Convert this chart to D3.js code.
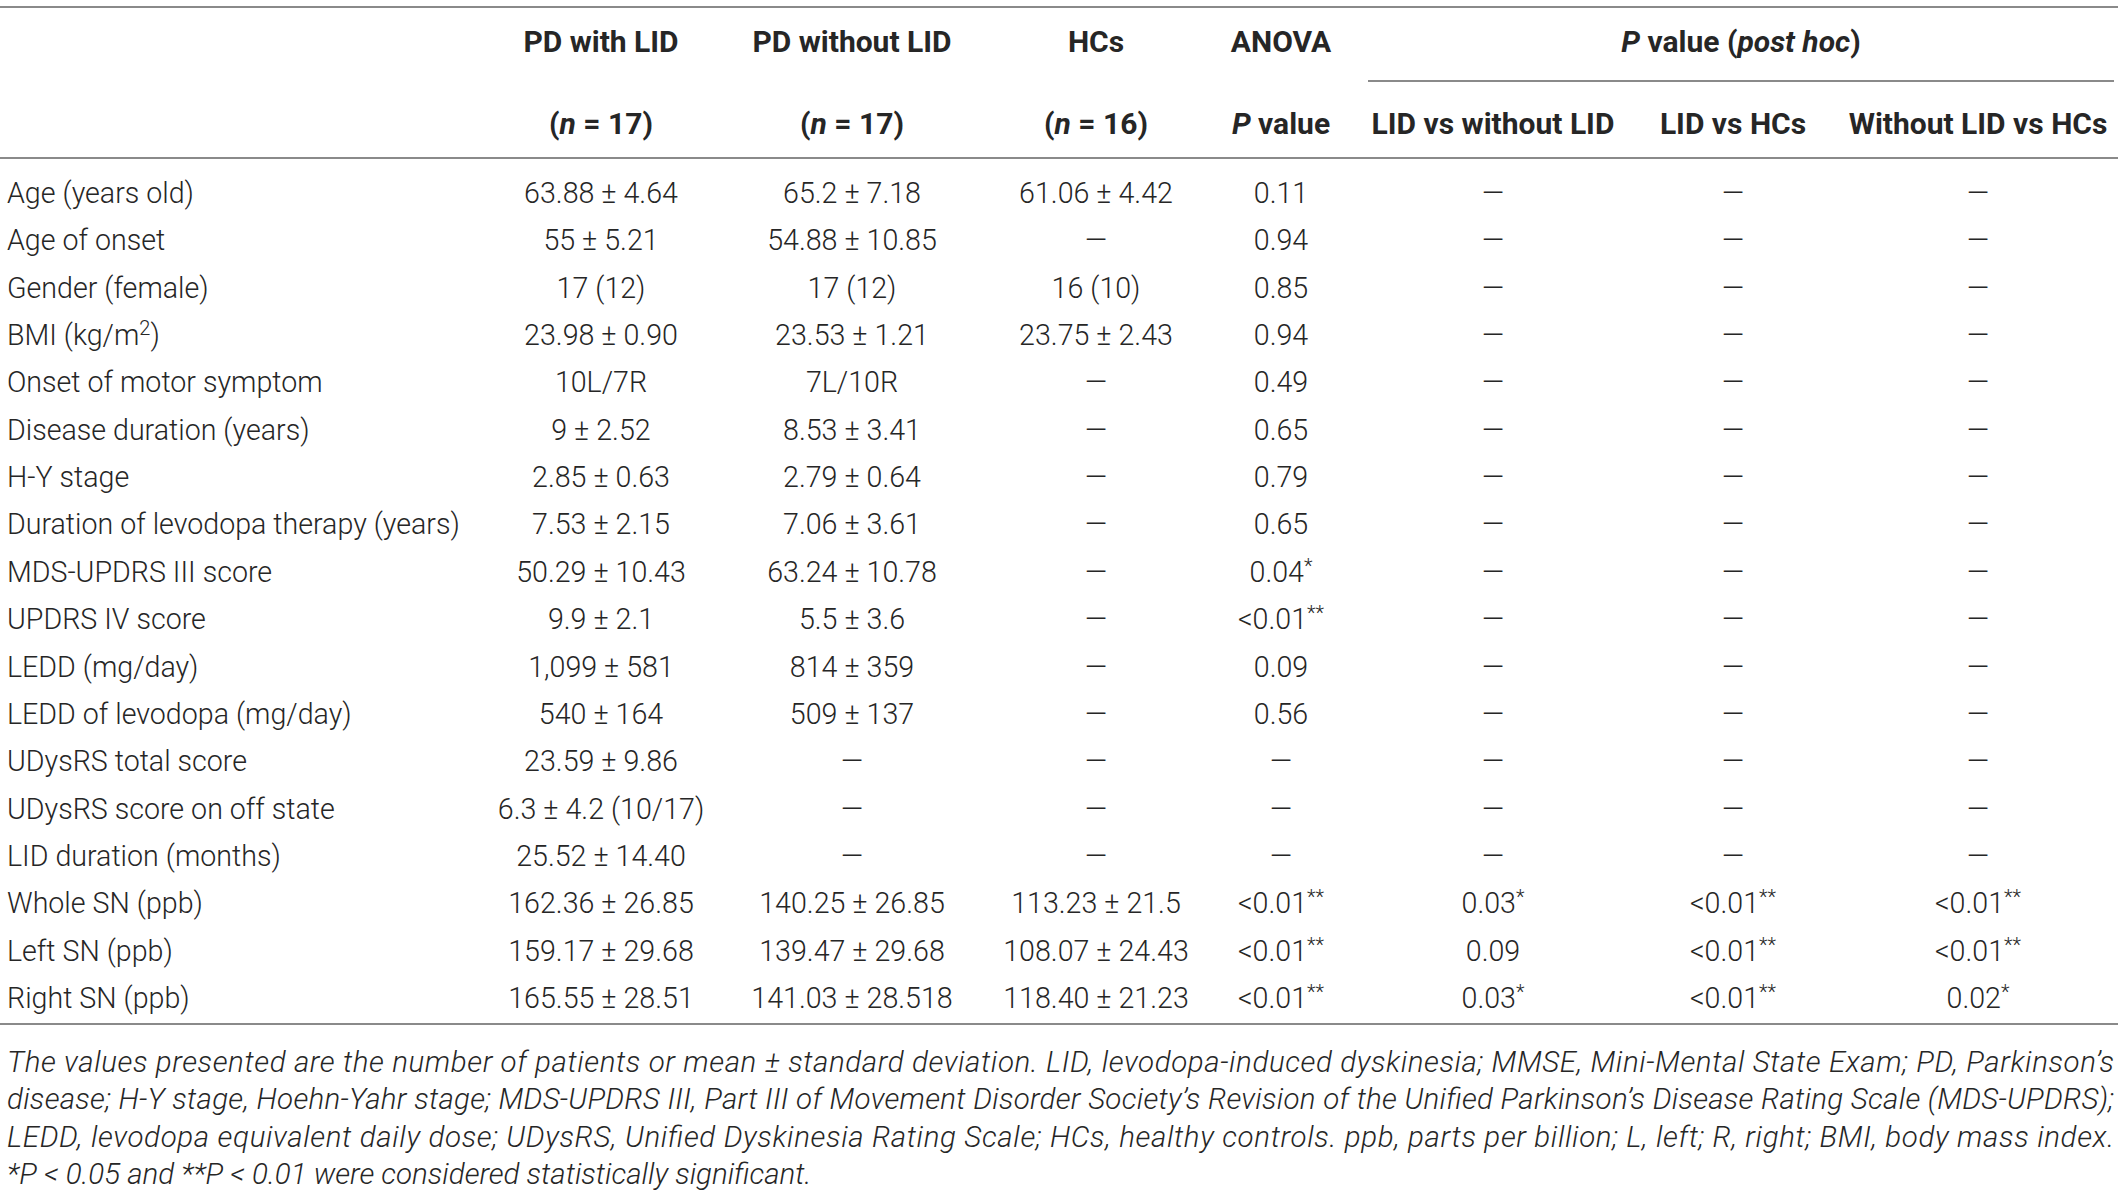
<!DOCTYPE html>
<html>
<head>
<meta charset="utf-8">
<script src="https://cdn.jsdelivr.net/npm/d3@7"></script>
<style>
  body { margin: 0; background: #fff; }
  svg { display: block; }
  text { font-family: Roboto, "Liberation Sans", sans-serif; fill: #262626; }
</style>
</head>
<body>
<div id="table"></div>
<script>
// table content
var rowLabels = ["Age (years old)", "Age of onset", "Gender (female)", "BMI (kg/m^2)",
  "Onset of motor symptom", "Disease duration (years)", "H-Y stage",
  "Duration of levodopa therapy (years)", "MDS-UPDRS III score", "UPDRS IV score",
  "LEDD (mg/day)", "LEDD of levodopa (mg/day)", "UDysRS total score",
  "UDysRS score on off state", "LID duration (months)", "Whole SN (ppb)",
  "Left SN (ppb)", "Right SN (ppb)"];

var withLID = ["63.88 ± 4.64", "55 ± 5.21", "17 (12)", "23.98 ± 0.90", "10L/7R", "9 ± 2.52",
  "2.85 ± 0.63", "7.53 ± 2.15", "50.29 ± 10.43", "9.9 ± 2.1", "1,099 ± 581", "540 ± 164",
  "23.59 ± 9.86", "6.3 ± 4.2 (10/17)", "25.52 ± 14.40", "162.36 ± 26.85", "159.17 ± 29.68",
  "165.55 ± 28.51"];

var withoutLID = ["65.2 ± 7.18", "54.88 ± 10.85", "17 (12)", "23.53 ± 1.21", "7L/10R",
  "8.53 ± 3.41", "2.79 ± 0.64", "7.06 ± 3.61", "63.24 ± 10.78", "5.5 ± 3.6", "814 ± 359",
  "509 ± 137", "—", "—", "—", "140.25 ± 26.85", "139.47 ± 29.68", "141.03 ± 28.518"];

var hcs = ["61.06 ± 4.42", "—", "16 (10)", "23.75 ± 2.43", "—", "—", "—", "—", "—", "—",
  "—", "—", "—", "—", "—", "113.23 ± 21.5", "108.07 ± 24.43", "118.40 ± 21.23"];

var anovaP = ["0.11", "0.94", "0.85", "0.94", "0.49", "0.65", "0.79", "0.65", "0.04*",
  "<0.01**", "0.09", "0.56", "—", "—", "—", "<0.01**", "<0.01**", "<0.01**"];

var lidVsWithout = ["—", "—", "—", "—", "—", "—", "—", "—", "—", "—", "—", "—", "—", "—",
  "—", "0.03*", "0.09", "0.03*"];

var lidVsHCs = ["—", "—", "—", "—", "—", "—", "—", "—", "—", "—", "—", "—", "—", "—",
  "—", "<0.01**", "<0.01**", "<0.01**"];

var withoutVsHCs = ["—", "—", "—", "—", "—", "—", "—", "—", "—", "—", "—", "—", "—", "—",
  "—", "<0.01**", "<0.01**", "0.02*"];

// header pieces: [text, italic]
var header1 = [
  [["PD with LID", false]],
  [["PD without LID", false]],
  [["HCs", false]],
  [["ANOVA", false]]
];
var header2 = [
  [["(", false], ["n", true], [" = 17)", false]],
  [["(", false], ["n", true], [" = 17)", false]],
  [["(", false], ["n", true], [" = 16)", false]],
  [["P", true], [" value", false]],
  [["LID vs without LID", false]],
  [["LID vs HCs", false]],
  [["Without LID vs HCs", false]]
];
var postHoc = [["P", true], [" value (", false], ["post hoc", true], [")", false]];

var notes = [
  "The values presented are the number of patients or mean ± standard deviation. LID, levodopa-induced dyskinesia; MMSE, Mini-Mental State Exam; PD, Parkinson’s",
  "disease; H-Y stage, Hoehn-Yahr stage; MDS-UPDRS III, Part III of Movement Disorder Society’s Revision of the Unified Parkinson’s Disease Rating Scale (MDS-UPDRS);",
  "LEDD, levodopa equivalent daily dose; UDysRS, Unified Dyskinesia Rating Scale; HCs, healthy controls. ppb, parts per billion; L, left; R, right; BMI, body mass index.",
  "*P < 0.05 and **P < 0.01 were considered statistically significant."
];

var width = 2118,
height = 1195,
left = 7,
right = 2114;

var columns = [withLID, withoutLID, hcs, anovaP, lidVsWithout, lidVsHCs, withoutVsHCs];
var colX = [601, 852, 1096, 1281, 1493, 1733, 1978];

var y = d3.scalePoint()
  .domain(d3.range(rowLabels.length))
  .range([193, 998]);

var svg = d3.select("#table").append("svg")
  .attr("width", width)
  .attr("height", height);

function rule(yy, x1, x2) {
  svg.append("line")
    .attr("x1", x1).attr("x2", x2)
    .attr("y1", yy).attr("y2", yy)
    .attr("stroke", "#8a8a8a")
    .attr("stroke-width", 2);
}

rule(7, 0, width);
rule(81, 1368, right);
rule(158, 0, width);
rule(1024, 0, width);

function pieces(sel, parts) {
  parts.forEach(function(p) {
    sel.append("tspan")
      .attr("font-style", p[1] ? "italic" : null)
      .text(p[0]);
  });
}

// cell text: trailing asterisks and ^2 become superscripts
function cell(sel, str) {
  var m = str.match(/^(.*?)(\*+)$/);
  if (m) {
    sel.append("tspan").text(m[1]);
    sel.append("tspan").attr("dy", -9).attr("font-size", 20).text(m[2]);
    return;
  }
  var k = str.indexOf("^");
  if (k >= 0) {
    sel.append("tspan").text(str.slice(0, k));
    sel.append("tspan").attr("dy", -10).attr("font-size", 20).text(str[k + 1]);
    sel.append("tspan").attr("dy", 10).text(str.slice(k + 2));
    return;
  }
  sel.text(str);
}

var head = svg.append("g")
  .attr("font-size", 30)
  .attr("font-weight", 700)
  .attr("text-anchor", "middle");

header1.forEach(function(h, i) {
  pieces(head.append("text").attr("x", colX[i]).attr("y", 52), h);
});
pieces(head.append("text").attr("x", 1741).attr("y", 52), postHoc);
header2.forEach(function(h, i) {
  pieces(head.append("text").attr("x", colX[i]).attr("y", 134), h);
});

var body = svg.append("g")
  .attr("font-size", 28.6)
  .attr("font-weight", 300);

body.selectAll("text.label")
  .data(rowLabels)
  .enter().append("text")
  .attr("class", "label")
  .attr("x", left)
  .attr("y", function(d, i) { return y(i) + 10; })
  .each(function(d) { cell(d3.select(this), d); });

columns.forEach(function(col, c) {
  body.selectAll("text.c" + c)
    .data(col)
    .enter().append("text")
    .attr("class", "c" + c)
    .attr("text-anchor", "middle")
    .attr("x", colX[c])
    .attr("y", function(d, i) { return y(i) + 10; })
    .each(function(d) { cell(d3.select(this), d); });
});

var noteY = d3.scalePoint()
  .domain(d3.range(notes.length))
  .range([1062, 1174]);

svg.append("g")
  .attr("font-size", 29.5)
  .attr("font-weight", 300)
  .attr("font-style", "italic")
  .selectAll("text")
  .data(notes)
  .enter().append("text")
  .attr("x", left)
  .attr("y", function(d, i) { return noteY(i) + 10; })
  .attr("textLength", function(d, i) { return i < notes.length - 1 ? right - left : null; })
  .attr("lengthAdjust", "spacing")
  .text(function(d) { return d; });
</script>
</body>
</html>
